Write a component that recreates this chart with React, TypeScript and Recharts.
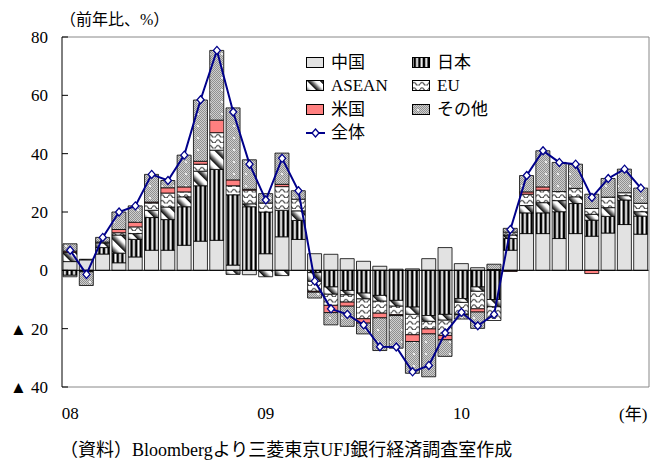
import React from "react";
import { Bar, BarChart, Line, ReferenceLine, XAxis, YAxis } from "recharts";

// 2008/01 - 2010/12, monthly
const months = [
  "08/01", "08/02", "08/03", "08/04", "08/05", "08/06", "08/07", "08/08", "08/09", "08/10", "08/11", "08/12",
  "09/01", "09/02", "09/03", "09/04", "09/05", "09/06", "09/07", "09/08", "09/09", "09/10", "09/11", "09/12",
  "10/01", "10/02", "10/03", "10/04", "10/05", "10/06", "10/07", "10/08", "10/09", "10/10", "10/11", "10/12",
];

// contributions by destination (% pt)
const china = [3.0, 3.6, 5.6, 2.6, 4.6, 6.9, 6.9, 8.6, 10.0, 10.3, 1.8, -1.5, 5.7, 11.5, 10.6, 5.7, 5.5, 4.0, 3.1, 1.4, 0.4, 0.5, 4.0, 7.8, 2.3, 0.9, 0.3, 6.9, 12.6, 12.6, 10.9, 12.6, 11.7, 12.8, 15.7, 12.4];
const japan = [-1.7, -0.3, 2.2, 3.3, 6.0, 11.2, 10.5, 13.2, 19.0, 24.3, 24.1, 21.8, 14.3, 9.1, 6.5, -0.8, -5.7, -6.9, -7.8, -8.6, -10.3, -12.6, -15.5, -15.1, -9.7, -5.7, -10.0, 4.0, 7.1, 7.1, 9.2, 10.3, 5.5, 5.7, 8.4, 6.2];
const asean = [3.2, 0.2, 1.6, 6.2, 2.0, 2.5, 4.3, 3.4, 5.0, 6.6, -1.4, 1.0, -2.2, -1.8, 3.3, -3.0, -2.5, -1.5, -2.0, -2.0, -2.0, -2.5, -2.0, -2.0, -1.3, -1.5, -2.5, 1.2, 2.5, 3.5, 3.8, 2.3, 2.0, 3.0, 1.5, 1.5];
const eu = [-0.5, -0.2, 0.3, 0.8, 2.3, 2.5, 4.8, 1.7, 2.4, 6.0, 3.1, 4.7, 3.1, 8.1, 4.0, -3.4, -3.8, -2.5, -6.8, -4.1, -2.9, -7.0, -2.6, -5.2, -4.0, -6.0, -4.7, 1.0, 3.9, 4.3, 3.1, 2.9, 2.0, 3.6, 1.0, 2.9];
const us = [0.4, 0, 0, 1.1, 1.6, 0.3, 1.8, 1.7, 1.0, 4.3, 2.0, 0.3, 0, 0.8, 0, -0.3, -2.5, -1.4, -1.5, -1.6, -0.3, -2.3, -1.7, -1.5, -0.2, -1.1, 0, -0.4, 0.8, 1.1, 0, 0, -1.1, 0, 0, 0];
const other = [2.5, -4.7, 1.6, 6.0, 5.6, 9.5, 2.5, 10.9, 21.0, 23.9, 24.7, 10.1, 3.2, 10.7, 2.9, -2.0, -4.2, -6.9, -3.7, -11.2, -11.2, -10.9, -14.7, -5.7, -1.5, -5.6, 1.8, 1.3, 5.6, 12.4, 10.0, 8.3, 4.9, 6.4, 8.1, 5.2];
const total = [6.9, -1.4, 11.3, 20.0, 22.1, 32.9, 30.8, 39.5, 58.5, 75.4, 54.3, 36.4, 24.1, 38.4, 27.3, -3.7, -13.2, -15.1, -18.7, -26.2, -26.3, -34.8, -32.6, -21.5, -14.4, -19.0, -15.1, 14.0, 32.5, 41.0, 37.0, 36.4, 25.0, 31.5, 34.7, 28.2];

const yTicks = [-40, -20, 0, 20, 40, 60, 80];

const data = months.map((month, i) => ({
  month,
  china: china[i],
  japan: japan[i],
  asean: asean[i],
  eu: eu[i],
  us: us[i],
  other: other[i],
  total: total[i],
}));

const serif = '"Liberation Serif", "Times New Roman", "Noto Sans CJK JP", serif';
const navy = "#00008b";

const series = [
  { key: "china", name: "中国", fill: "#e2e2e2" },
  { key: "japan", name: "日本", fill: "url(#ptJapan)" },
  { key: "asean", name: "ASEAN", fill: "url(#ptAsean)" },
  { key: "eu", name: "EU", fill: "url(#ptEu)" },
  { key: "us", name: "米国", fill: "#ff8080" },
  { key: "other", name: "その他", fill: "url(#ptOther)" },
];

function YTick({ x, y, payload }: any) {
  const v = payload.value as number;
  const label = v < 0 ? `▲ ${-v}` : `${v}`;
  return (
    <g>
      <line x1={x + 14} x2={x + 20} y1={y} y2={y} stroke="#000" />
      <text x={x} y={y} dy={6} textAnchor="end" fontSize={17} fontFamily={serif} fill="#000">
        {label}
      </text>
    </g>
  );
}

function Diamond({ cx, cy, index }: any) {
  if (cx == null || cy == null) return <g key={index} />;
  return (
    <path
      key={index}
      d={`M${cx},${cy - 4} L${cx + 3.5},${cy} L${cx},${cy + 4} L${cx - 3.5},${cy} Z`}
      fill="#fff"
      stroke={navy}
      strokeWidth={1.3}
    />
  );
}

function Patterns() {
  return (
    <defs>
      <linearGradient id="gJapan" x1="0" x2="1" y1="0" y2="0">
        <stop offset="0" stopColor="#fff" />
        <stop offset="0.2" stopColor="#fff" />
        <stop offset="0.45" stopColor="#000" />
        <stop offset="0.75" stopColor="#000" />
        <stop offset="1" stopColor="#fff" />
      </linearGradient>
      <pattern id="ptJapan" patternUnits="userSpaceOnUse" width="4.6" height="10">
        <rect width="4.6" height="10" fill="url(#gJapan)" />
      </pattern>
      <linearGradient id="gAsean" x1="0" x2="1" y1="0" y2="0">
        <stop offset="0" stopColor="#000" />
        <stop offset="0.3" stopColor="#666" />
        <stop offset="0.65" stopColor="#fff" />
        <stop offset="1" stopColor="#fff" />
      </linearGradient>
      <pattern id="ptAsean" patternUnits="userSpaceOnUse" width="9" height="10" patternTransform="rotate(-45)">
        <rect width="9" height="10" fill="url(#gAsean)" />
      </pattern>
      <pattern id="ptEu" patternUnits="userSpaceOnUse" width="8" height="5.5">
        <rect width="8" height="5.5" fill="#fff" />
        <path d="M0,4 Q2,0.8 4,4 T8,4" fill="none" stroke="#444" strokeWidth="1.2" />
      </pattern>
      <pattern id="ptChecker" patternUnits="userSpaceOnUse" width="2" height="2">
        <rect width="2" height="2" fill="#cfcfcf" />
        <rect width="1" height="1" fill="#8f8f8f" />
        <rect x="1" y="1" width="1" height="1" fill="#8f8f8f" />
      </pattern>
      <pattern id="ptOther" patternUnits="userSpaceOnUse" width="12" height="12">
        <rect width="12" height="12" fill="url(#ptChecker)" />
        <circle cx="6" cy="6" r="1" fill="#fff" />
      </pattern>
    </defs>
  );
}

function LegendBox() {
  const cell = (s: { key: string; name: string; fill: string }) => (
    <div key={s.key} style={{ display: "flex", alignItems: "center", height: 23.5 }}>
      <svg width={19} height={12} style={{ marginRight: 6 }}>
        <rect x={0.5} y={0.5} width={17} height={10} fill={s.fill} stroke="#000" />
      </svg>
      <span>{s.name}</span>
    </div>
  );
  return (
    <div
      style={{
        position: "absolute",
        left: 306,
        top: 51,
        fontFamily: serif,
        fontSize: 17,
        lineHeight: "18px",
        display: "grid",
        gridTemplateColumns: "106px 90px",
      }}
    >
      {series.map(cell)}
      <div style={{ display: "flex", alignItems: "center", height: 23.5 }}>
        <svg width={19} height={12} style={{ marginRight: 6 }}>
          <line x1={0} x2={19} y1={6} y2={6} stroke={navy} strokeWidth={2} />
          <path d="M9.5,2 L13,6 L9.5,10 L6,6 Z" fill="#fff" stroke={navy} strokeWidth={1.3} />
        </svg>
        <span>全体</span>
      </div>
    </div>
  );
}

export default function App() {
  return (
    <div style={{ position: "absolute", left: 0, top: 0, width: 653, height: 461, background: "#fff", overflow: "hidden" }}>
      <BarChart
        width={653}
        height={461}
        data={data}
        stackOffset="sign"
        barSize={14}
        margin={{ top: 36, right: 3, bottom: 34, left: 0 }}
      >
        <Patterns />
        <XAxis
          dataKey="month"
          interval={0}
          tickLine={false}
          tickSize={0}
          tickMargin={20}
          height={40}
          axisLine={{ stroke: "#888" }}
          tick={{ fontSize: 17, fill: "#000", fontFamily: serif }}
          tickFormatter={(m: string) => (m.endsWith("/01") ? m.slice(0, 2) : "")}
        />
        <XAxis xAxisId="frame" orientation="top" height={1} tick={false} tickLine={false} axisLine={{ stroke: "#888" }} />
        <YAxis
          domain={[-40, 80]}
          ticks={yTicks}
          width={62}
          tickSize={0}
          tickMargin={14}
          tickLine={false}
          axisLine={{ stroke: "#000" }}
          tick={<YTick />}
          allowDataOverflow
        />
        <YAxis yAxisId="frame" orientation="right" width={1} tick={false} tickLine={false} axisLine={{ stroke: "#888" }} />
        {series.map((s) => (
          <Bar
            key={s.key}
            dataKey={s.key}
            stackId="a"
            fill={s.fill}
            stroke="#000"
            strokeWidth={0.8}
            isAnimationActive={false}
          />
        ))}
        <ReferenceLine y={0} stroke="#000" strokeWidth={1} />
        <Line
          dataKey="total"
          stroke={navy}
          strokeWidth={2}
          dot={(p: any) => <Diamond {...p} />}
          activeDot={false}
          isAnimationActive={false}
        />
      </BarChart>
      <div style={{ position: "absolute", left: 60, top: 6, fontFamily: serif, fontSize: 16 }}>（前年比、%）</div>
      <div style={{ position: "absolute", left: 619, top: 400, fontFamily: serif, fontSize: 17, whiteSpace: "nowrap" }}>(年)</div>
      <div style={{ position: "absolute", left: 60, top: 435, fontFamily: serif, fontSize: 18, whiteSpace: "nowrap" }}>
        （資料）Bloombergより三菱東京UFJ銀行経済調査室作成
      </div>
      <LegendBox />
    </div>
  );
}
